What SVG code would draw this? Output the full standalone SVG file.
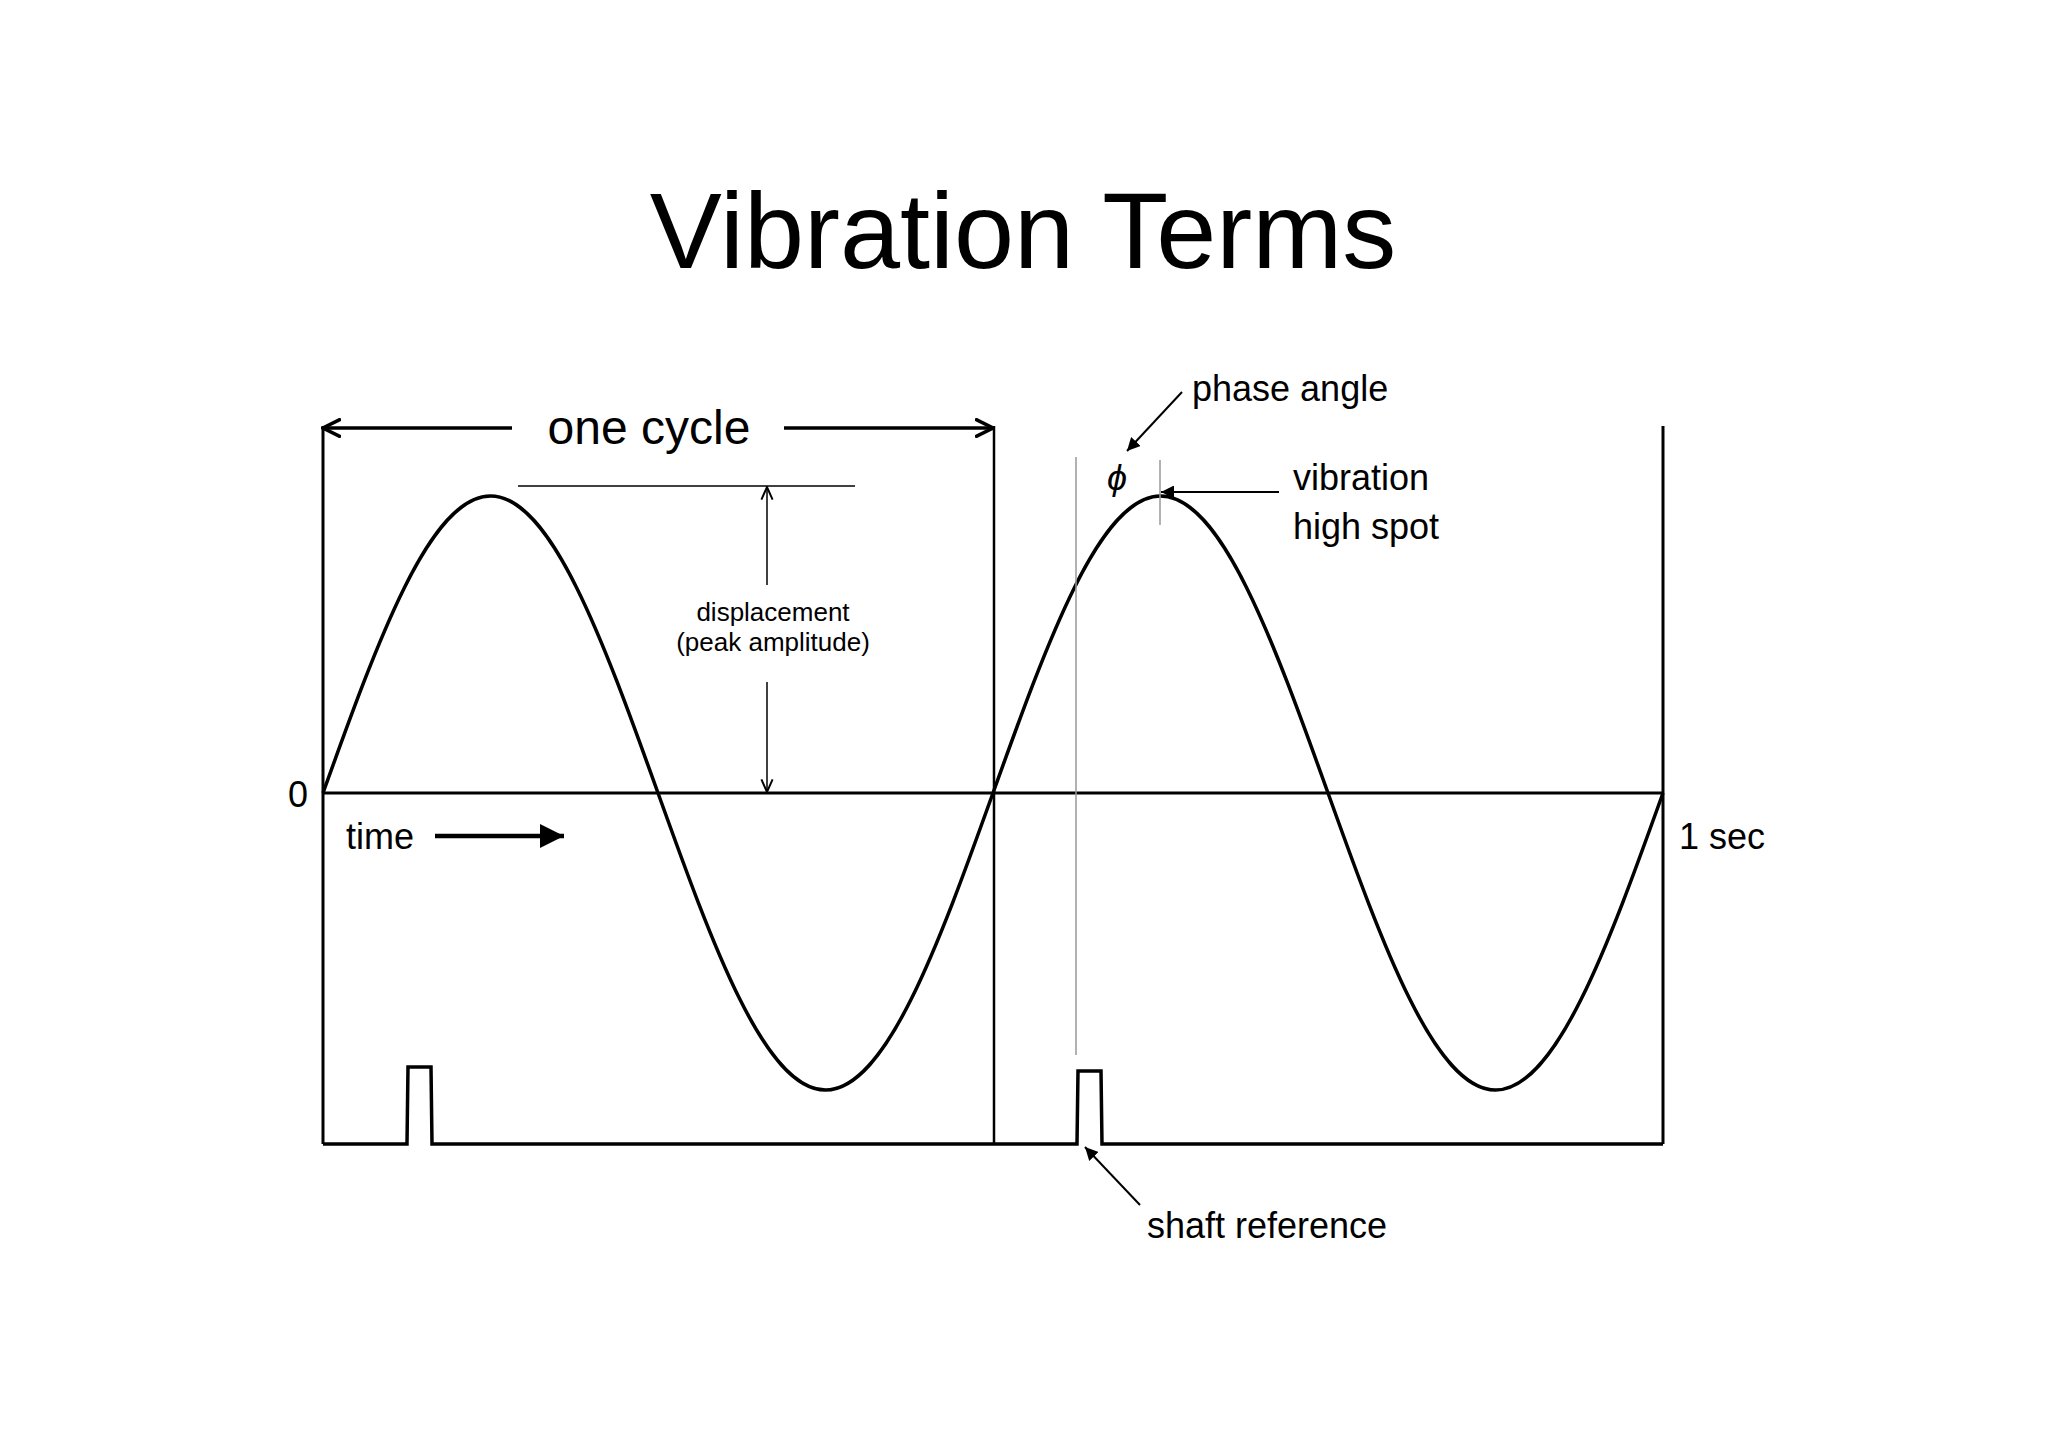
<svg xmlns="http://www.w3.org/2000/svg" width="2048" height="1447" viewBox="0 0 2048 1447">
<defs>
<style>
text{font-family:"Liberation Sans",Arial,sans-serif;fill:#000}
.k{stroke:#000;fill:none}
.g{stroke:#999;stroke-width:1.5;fill:none}
</style>
<marker id="ah" viewBox="0 0 10 10" refX="10" refY="5" markerWidth="13" markerHeight="13" orient="auto-start-reverse" markerUnits="userSpaceOnUse"><path d="M0,0 L10,5 L0,10 z" fill="#000"/></marker>
<marker id="ah2" viewBox="0 0 10 10" refX="9" refY="5" markerWidth="20" markerHeight="20" orient="auto-start-reverse" markerUnits="userSpaceOnUse"><path d="M0,0.5 L9,5 L0,9.5" fill="none" stroke="#000" stroke-width="1.8"/></marker>
<marker id="ah4" viewBox="0 0 10 10" refX="9" refY="5" markerWidth="14" markerHeight="14" orient="auto" markerUnits="userSpaceOnUse"><path d="M0,1 L9,5 L0,9" fill="none" stroke="#000" stroke-width="1.4"/></marker>
<marker id="ah3" viewBox="0 0 10 10" refX="10" refY="5" markerWidth="24" markerHeight="24" orient="auto" markerUnits="userSpaceOnUse"><path d="M0,0 L10,5 L0,10 z" fill="#000"/></marker>
</defs>
<rect width="2048" height="1447" fill="#fff"/>
<text x="1023" y="268" font-size="108" text-anchor="middle">Vibration Terms</text>
<g id="frame">
<path class="k" stroke-width="3" d="M323,426 V1144 M1663,426 V1144 M323,793 H1663"/>
<path class="k" stroke-width="2.5" d="M994,426 V1144"/>
<path class="k" stroke-width="3.5" d="M323,1144 H407 L408,1067 H431 L432,1144 H1077 L1078,1071 H1101 L1102,1144 H1663"/>
</g>
<g id="wave">
<path class="k" stroke-width="3.5" stroke-linejoin="round" d="M323,793 C377.6,640.9 429.9,496 490.5,496 S603.4,640.9 658,793 S764.9,1090 825.5,1090 S938.4,945.1 993,793 S1099.9,496 1160.5,496 S1273.4,640.9 1328,793 S1434.9,1090 1495.5,1090 S1608.4,945.1 1663,793"/>
</g>
<g id="connectors">
<line class="k" stroke-width="3.5" x1="323" y1="428" x2="512" y2="428" marker-start="url(#ah2)"/>
<line class="k" stroke-width="3.5" x1="784" y1="428" x2="993" y2="428" marker-end="url(#ah2)"/>
<line class="k" stroke-width="1.5" x1="518" y1="486" x2="855" y2="486"/>
<line class="k" stroke-width="1.5" x1="767" y1="585" x2="767" y2="487" marker-end="url(#ah4)"/>
<line class="k" stroke-width="1.5" x1="767" y1="682" x2="767" y2="792" marker-end="url(#ah4)"/>
<line class="k" stroke-width="4.5" x1="435" y1="836" x2="564" y2="836" marker-end="url(#ah3)"/>
<line class="g" x1="1076" y1="457" x2="1076" y2="1055"/>
<line class="g" x1="1160" y1="460" x2="1160" y2="525"/>
<line class="k" stroke-width="2" x1="1182" y1="392" x2="1127" y2="451" marker-end="url(#ah)"/>
<line class="k" stroke-width="2" x1="1279" y1="492" x2="1161" y2="492" marker-end="url(#ah)"/>
<line class="k" stroke-width="2" x1="1140" y1="1205" x2="1085" y2="1147" marker-end="url(#ah)"/>
</g>
<g id="labels">
<text x="649" y="444" font-size="48" text-anchor="middle">one cycle</text>
<text x="773" y="621" font-size="26" text-anchor="middle">displacement</text>
<text x="773" y="651" font-size="26" text-anchor="middle">(peak amplitude)</text>
<text x="288" y="807" font-size="36">0</text>
<text x="346" y="849" font-size="36">time</text>
<text x="1679" y="849" font-size="36">1 sec</text>
<text x="1117" y="490" font-size="36" font-style="italic" text-anchor="middle">ϕ</text>
<text x="1192" y="401" font-size="36">phase angle</text>
<text x="1293" y="490" font-size="36">vibration</text>
<text x="1293" y="539" font-size="36">high spot</text>
<text x="1147" y="1238" font-size="36">shaft reference</text>
</g>
</svg>
